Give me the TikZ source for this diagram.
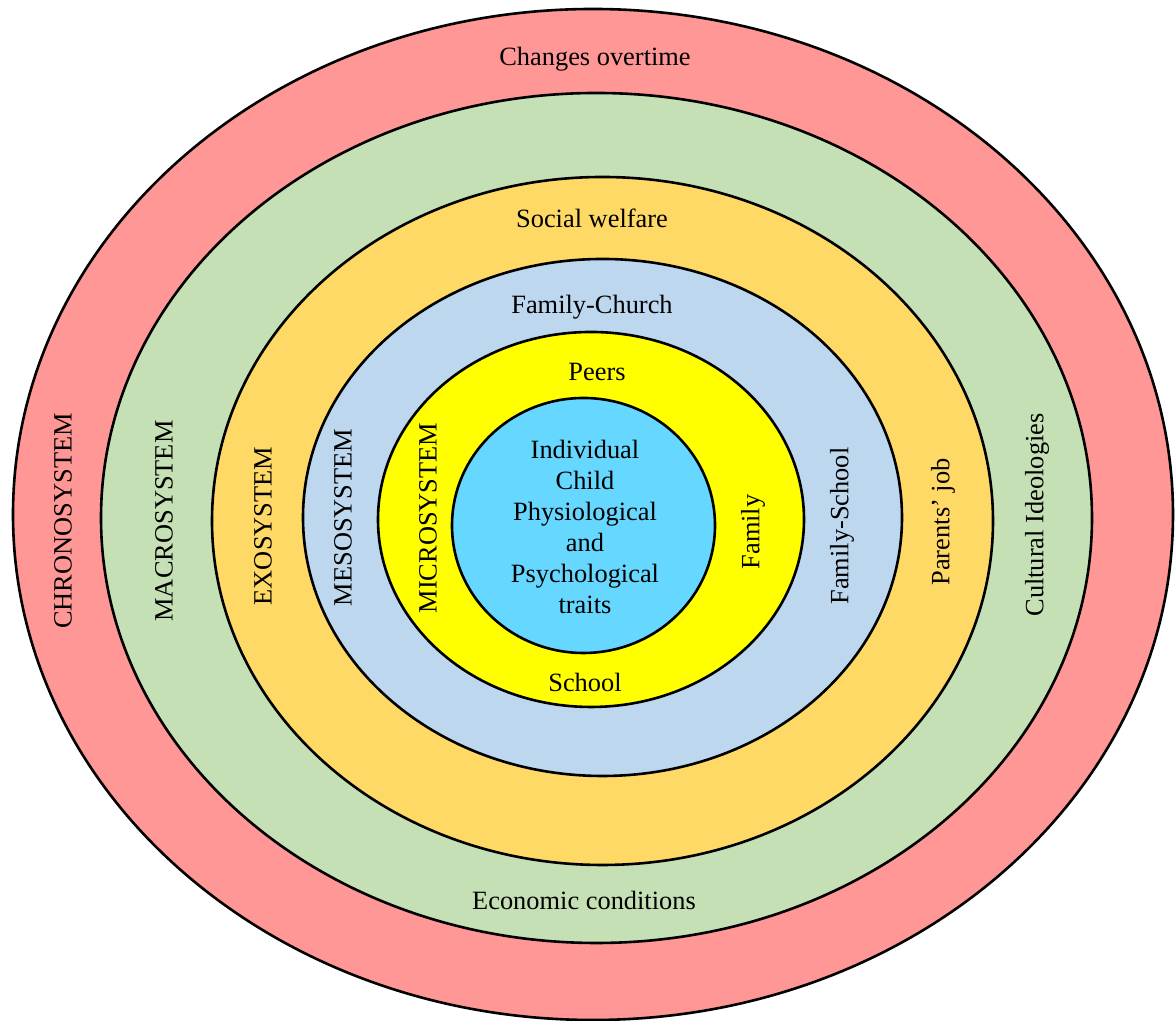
\documentclass[tikz,border=0pt]{standalone}
\usepackage{fontspec}
\setmainfont{Liberation Serif}
\definecolor{chrono}{HTML}{FF9797}
\definecolor{macro}{HTML}{C5E0B4}
\definecolor{exo}{HTML}{FFD966}
\definecolor{meso}{HTML}{BDD7EE}
\definecolor{micro}{HTML}{FFFF00}
\definecolor{child}{HTML}{66D8FF}
\begin{document}
\begin{tikzpicture}[x=50pt, y=50pt, ring/.style={draw=black, line width=1.3pt},
    every node/.style={font=\fontsize{13.2}{15.5}\selectfont}]
            \useasboundingbox (0,0) rectangle (11.75,10.21);
            % rings, outside in
            \filldraw[ring, fill=chrono] (5.93,5.065) ellipse (5.80 and 5.055);
            \filldraw[ring, fill=macro] (5.965,5.03) ellipse (4.955 and 4.25);
            \filldraw[ring, fill=exo] (6.025,5.00) ellipse (3.905 and 3.44);
            \filldraw[ring, fill=meso] (6.025,5.035) ellipse (2.995 and 2.585);
            \filldraw[ring, fill=micro] (5.91,5.015) ellipse (2.13 and 1.875);
            \filldraw[ring, fill=child] (5.835,4.955) ellipse (1.315 and 1.275);
            % system names on the left
            \node[rotate=90] (chrononame) at (0.63,5.00) {CHRONOSYSTEM};
            \node[rotate=90] (macroname) at (1.64,5.00) {MACROSYSTEM};
            \node[rotate=90] (exoname) at (2.63,4.95) {EXOSYSTEM};
            \node[rotate=90] (mesoname) at (3.43,5.035) {MESOSYSTEM};
            \node[rotate=90] (microname) at (4.28,5.03) {MICROSYSTEM};
            % examples in each ring
            \node (chronotop) at (5.95,9.62) {Changes overtime};
            \node[rotate=90] (macroright) at (10.37,5.06) {Cultural Ideologies};
            \node (macrobottom) at (5.84,1.21) {Economic conditions};
            \node (exotop) at (5.92,8.03) {Social welfare};
            \node[rotate=90] (exoright) at (9.43,4.99) {Parents’ job};
            \node (mesotop) at (5.92,7.14) {Family-Church};
            \node[rotate=90] (mesoright) at (8.42,4.95) {Family-School};
            \node (microtop) at (5.97,6.49) {Peers};
            \node[rotate=90] (microright) at (7.53,4.89) {Family};
            \node (microbottom) at (5.85,3.39) {School};
            \node[align=center] (childtext) at (5.85,4.94) {Individual\\Child\\Physiological\\and\\Psychological\\traits};
        \end{tikzpicture}
\end{document}
